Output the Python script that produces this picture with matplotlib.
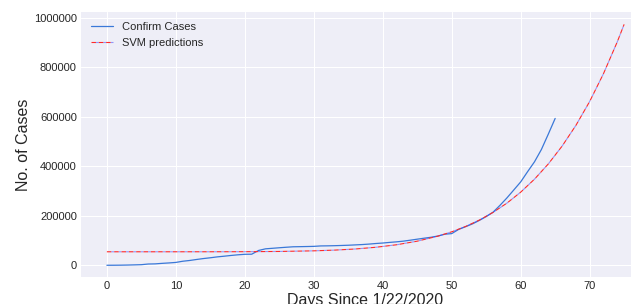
import matplotlib

matplotlib.use("Agg")
import matplotlib.pyplot as plt

# Global confirmed cases, day 0 = 1/22/2020
confirm_cases = [
    555, 654, 941, 1434, 2118, 2927, 5578, 6166, 8234, 9927,
    12038, 16787, 19881, 23892, 27635, 30794, 34391, 37120, 40150, 42762,
    44802, 45221, 60368, 66885, 69030, 71224, 73258, 75136, 75639, 76197,
    76823, 78579, 78965, 79568, 80413, 81395, 82754, 84120, 86011, 88369,
    90306, 92840, 95120, 97886, 101801, 105847, 109821, 113590, 118620, 125875,
    128352, 145205, 156101, 167454, 181574, 197102, 214821, 242570, 272208, 304507,
    336953, 378231, 418041, 467653, 529591, 593291,
]
confirm_days = list(range(len(confirm_cases)))

# SVM (polynomial) predictions
svm_days = [0, 5, 10, 15, 20, 25, 30, 33, 36, 39, 42, 45, 48, 50, 52, 54, 56,
            58, 60, 62, 64, 66, 68, 70, 72, 74, 75]
svm_pred = [55000, 55000, 55010, 55060, 55330, 56300, 58800, 61700, 66200,
            73200, 83300, 97800, 118100, 135600, 157000, 182900, 214100,
            251300, 295600, 348000, 409400, 481300, 564900, 661600, 773600,
            902000, 973000]

plt.style.use("seaborn-v0_8-darkgrid")
plt.rcParams["font.family"] = ["Liberation Sans", "DejaVu Sans"]

fig = plt.figure(figsize=(6.31, 3.04), dpi=100)
ax = fig.add_axes([0.1284, 0.0878, 0.9017, 0.8717])
ax.set_facecolor("#eeeef7")
ax.grid(color="white", linewidth=0.8)

ax.plot(confirm_days, confirm_cases, color="#3a78d8", linewidth=0.9,
        label="Confirm Cases")
ax.plot(svm_days, svm_pred, color="#ff2a2a", linestyle=(0, (4, 2.6)),
        gapcolor=(0.2, 0.25, 1.0, 0.5), linewidth=0.8,
        label="SVM predictions")

ax.ticklabel_format(axis="y", style="plain")
ax.set_xticks(range(0, 80, 10))
ax.set_yticks(range(0, 1000001, 200000))
ax.tick_params(labelsize=8, colors="#262626", pad=3)
ax.set_xlabel("Days Since 1/22/2020", fontsize=11.5, labelpad=1)
ax.set_ylabel("No. of Cases", fontsize=11.5, labelpad=2)
ax.legend(loc="upper left", fontsize=8, frameon=False)

fig.savefig("out.png", dpi=100)
